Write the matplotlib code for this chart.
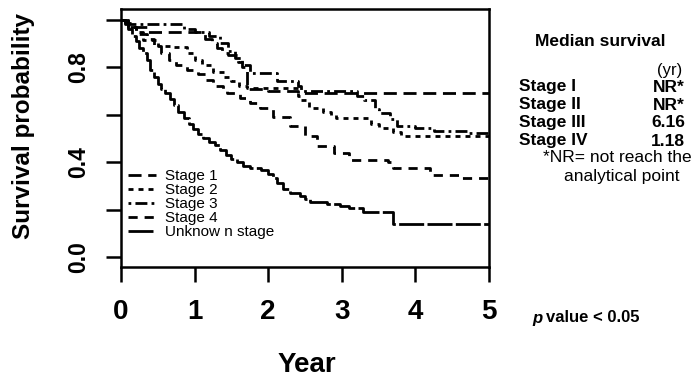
import matplotlib
matplotlib.use("Agg")
import matplotlib.pyplot as plt

plt.rcParams['font.family'] = ['Liberation Sans', 'DejaVu Sans']

# ---- data (step curves: time in years, survival after each step) ----
stage1_t = [0, 0.05, 0.15, 0.35, 1.14, 1.24, 1.30, 1.37, 1.45, 1.59, 1.65, 1.71, 2.0, 2.4, 5.0]
stage1_s = [1.0, 0.985, 0.97, 0.946, 0.92, 0.90, 0.88, 0.86, 0.85, 0.82, 0.80, 0.71, 0.70, 0.69, 0.69]

stage2_t = [0, 0.1, 0.2, 0.3, 0.5, 0.66, 0.9, 1.0, 1.1, 1.25, 1.4, 1.5, 1.6, 1.71, 2.4, 2.45,
            2.55, 2.75, 2.85, 2.92, 3.4, 3.5, 3.7, 3.8, 5.0]
stage2_s = [1.0, 0.97, 0.95, 0.913, 0.89, 0.885, 0.86, 0.83, 0.81, 0.78, 0.76, 0.74, 0.72, 0.713,
            0.68, 0.66, 0.63, 0.61, 0.60, 0.586, 0.56, 0.544, 0.525, 0.509, 0.509]

stage3_t = [0, 0.1, 0.85, 1.0, 1.2, 1.35, 1.45, 1.55, 1.65, 1.75, 2.12, 2.4, 2.45, 3.2, 3.3,
            3.45, 3.5, 3.65, 3.75, 4.0, 4.25, 4.7, 5.0]
stage3_s = [1.0, 0.983, 0.96, 0.946, 0.93, 0.90, 0.87, 0.84, 0.81, 0.776, 0.74, 0.72, 0.70, 0.68,
            0.66, 0.625, 0.607, 0.58, 0.55, 0.545, 0.53, 0.523, 0.523]

stage4_t = [0, 0.1, 0.2, 0.35, 0.45, 0.55, 0.65, 0.75, 0.9, 1.05, 1.15, 1.25, 1.38, 1.44, 1.62,
            1.75, 1.89, 2.07, 2.3, 2.5, 2.66, 2.9, 3.1, 3.63, 3.7, 4.2, 4.63, 5.0]
stage4_s = [1.0, 0.97, 0.94, 0.92, 0.89, 0.86, 0.83, 0.81, 0.79, 0.77, 0.745, 0.72, 0.70, 0.69,
            0.67, 0.65, 0.63, 0.59, 0.55, 0.51, 0.467, 0.44, 0.41, 0.40, 0.376, 0.346, 0.333, 0.333]

unknown_t = [0, 0.05, 0.1, 0.15, 0.2, 0.25, 0.3, 0.35, 0.4, 0.45, 0.5, 0.55, 0.6, 0.66, 0.72, 0.78,
             0.85, 0.92, 0.98, 1.05, 1.12, 1.2, 1.28, 1.35, 1.42, 1.5, 1.58, 1.66, 1.75, 1.9, 2.0,
             2.07, 2.12, 2.2, 2.3, 2.43, 2.5, 2.57, 2.8, 2.98, 3.1, 3.29, 3.7, 5.0]
unknown_s = [1.0, 0.98, 0.96, 0.93, 0.91, 0.88, 0.86, 0.83, 0.79, 0.76, 0.73, 0.71, 0.69, 0.665,
             0.64, 0.61, 0.585, 0.56, 0.54, 0.52, 0.50, 0.485, 0.47, 0.45, 0.43, 0.415, 0.40, 0.385,
             0.375, 0.365, 0.35, 0.333, 0.31, 0.285, 0.27, 0.258, 0.245, 0.23, 0.222, 0.215, 0.205,
             0.19, 0.14, 0.14]

legend_labels = ["Stage 1", "Stage 2", "Stage 3", "Stage 4", "Unknow n stage"]
x_ticks = [0, 1, 2, 3, 4, 5]
y_ticks = [0.0, 0.2, 0.4, 0.6, 0.8, 1.0]
y_ticklabels = ["0.0", "", "0.4", "", "0.8", ""]

median_stages = ["Stage I", "Stage II", "Stage III", "Stage IV"]
median_values = ["NR*", "NR*", "6.16", "1.18"]

# ---- figure ----
W, H = 700, 378
fig = plt.figure(figsize=(7.0, 3.78), dpi=100)
ax = fig.add_axes([121 / W, 1 - 267 / H, (489 - 121) / W, (267 - 9) / H])

lw = 2.0
styles = [
    (0, (4.7, 2.4)),
    (0, (1.8, 1.8)),
    (0, (1.0, 1.5, 4.3, 1.5)),
    (0, (3.3, 2.5)),
    (0, (9.0, 1.2)),
]
series = [(stage1_t, stage1_s), (stage2_t, stage2_s), (stage3_t, stage3_s),
          (stage4_t, stage4_s), (unknown_t, unknown_s)]
for (t, s), ls, lab in zip(series, styles, legend_labels):
    ax.step(t, s, where='post', color='black', lw=lw, linestyle=ls, label=lab)

ax.set_xlim(0, 5)
ax.set_ylim(-0.042, 1.045)
ax.set_xticks(x_ticks)
ax.set_xticklabels([str(v) for v in x_ticks], fontsize=20, fontweight='bold')
ax.set_yticks(y_ticks)
ax.set_yticklabels(y_ticklabels, fontsize=16.5, fontweight='bold', rotation=90, va='center')
ax.tick_params(axis='both', direction='out', length=11, width=1.8, color='black')
ax.tick_params(axis='x', pad=12)
ax.tick_params(axis='y', pad=11)
for sp in ax.spines.values():
    sp.set_linewidth(1.8)

ax.set_xlabel("Year", fontsize=20, fontweight='bold')
ax.xaxis.set_label_coords((307 - 121) / 368, (267 - 365) / 258)
ax.xaxis.label.set_va('center')
ax.set_ylabel("Survival probability", fontsize=17.5, fontweight='bold')
ax.yaxis.set_label_coords((23 - 121) / 368, (267 - 126) / 258)
ax.yaxis.label.set_va('center')

leg = ax.legend(loc='upper left', bbox_to_anchor=((128 - 121) / 368, (267 - 169) / 258),
                frameon=False, fontsize=11, handlelength=1.8, handletextpad=0.6,
                labelspacing=0.0, borderpad=0, borderaxespad=0)

# ---- right-side annotations ----
def fx(px):
    return px / W

def fy(py):
    return 1 - py / H

fig.text(fx(600), fy(42), "Median survival", fontsize=12.5, fontweight='bold', ha='center', va='center')
fig.text(fx(670), fy(70), "(yr)", fontsize=12, ha='center', va='center')
for i, (st, val) in enumerate(zip(median_stages, median_values)):
    y = 87 + 18 * i
    fig.text(fx(519), fy(y), st, fontsize=12.5, fontweight='bold', ha='left', va='center')
    fig.text(fx(685), fy(y), val, fontsize=12.5, fontweight='bold', ha='right', va='center')
fig.text(fx(543), fy(158), "*NR= not reach the", fontsize=12.5, ha='left', va='center')
fig.text(fx(622), fy(177), "analytical point", fontsize=12.5, ha='center', va='center')

fig.text(fx(532), fy(318), "p", fontsize=12, fontweight='bold', style='italic', ha='left', va='center')
fig.text(fx(546), fy(318), "value < 0.05", fontsize=12, fontweight='bold', ha='left', va='center')

fig.savefig("out.png", dpi=100)
